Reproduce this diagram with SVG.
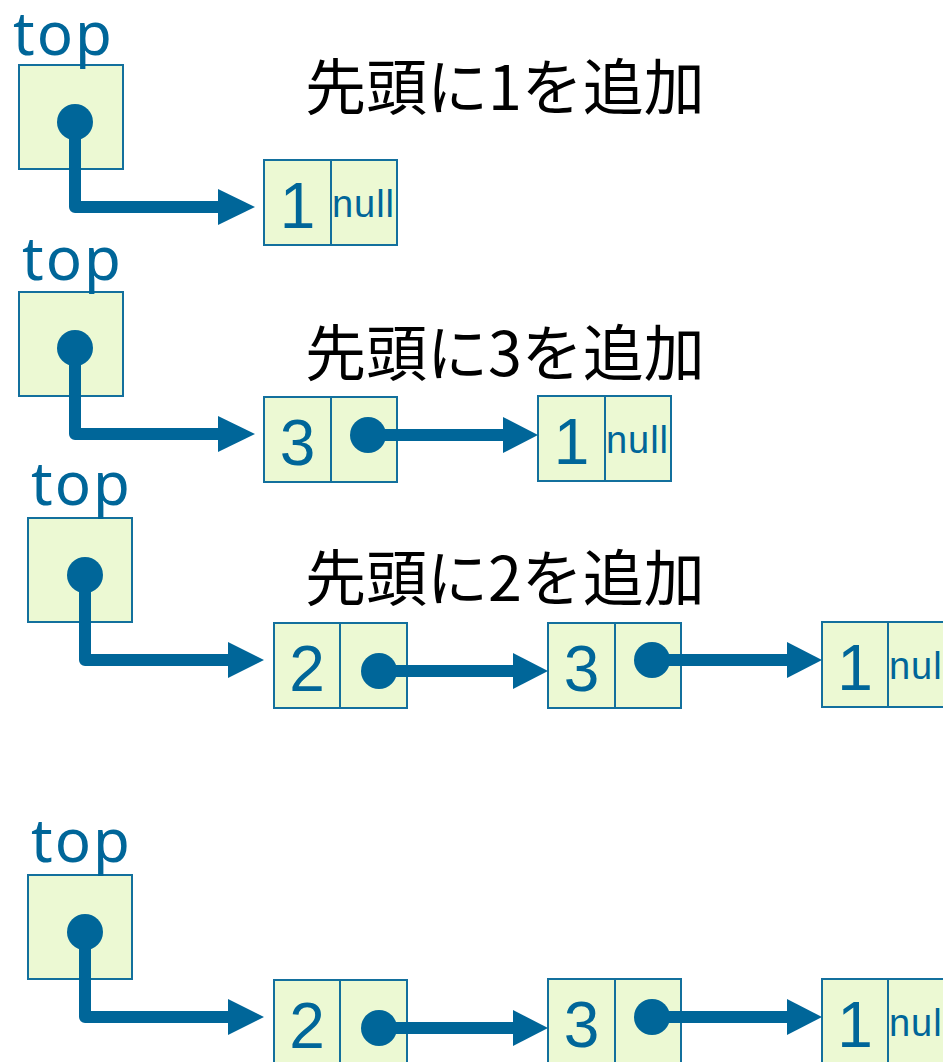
<svg xmlns="http://www.w3.org/2000/svg" width="943" height="1062" viewBox="0 0 943 1062">
<style>
.box{fill:#ecf9d3;stroke:#13709d;stroke-width:2}
.lbl{font-family:"Liberation Sans",Arial,sans-serif;fill:#006699}
.top{font-family:"Noto Sans","Liberation Sans",sans-serif;font-size:60px}
.num{font-size:64px;text-anchor:middle}
.null{font-size:38px}
.title{font-family:"Noto Sans CJK JP",sans-serif;font-size:61px;fill:#000}
.dot{fill:#006699}
.ln{fill:none;stroke:#006699;stroke-width:12;stroke-linejoin:round;stroke-linecap:butt}
.ah{fill:#006699}
</style>
<rect width="943" height="1062" fill="#fff"/>

<!-- Titles -->
<text class="title" x="305" y="110">先頭に1を追加</text>
<text class="title" x="305" y="376">先頭に3を追加</text>
<text class="title" x="305" y="601">先頭に2を追加</text>

<!-- Block 1 -->
<g id="top1">
<rect class="box" x="19" y="65" width="104" height="104"/>
<text class="lbl top" x="13" y="55" textLength="99">top</text>
</g>
<g id="b1n1">
<rect class="box" x="264" y="160" width="67" height="85"/>
<rect class="box" x="331" y="160" width="66" height="85"/>
<text class="lbl num" x="297.5" y="228">1</text>
<text class="lbl null" x="332" y="217" textLength="62">null</text>
</g>

<!-- Block 2 -->
<g id="top2">
<rect class="box" x="19" y="292" width="104" height="104"/>
<text class="lbl top" x="22" y="280" textLength="99">top</text>
</g>
<g id="b2n3">
<rect class="box" x="264" y="397" width="67" height="85"/>
<rect class="box" x="331" y="397" width="66" height="85"/>
<text class="lbl num" x="297.5" y="465">3</text>
</g>
<g id="b2n1">
<rect class="box" x="538" y="396" width="67" height="85"/>
<rect class="box" x="605" y="396" width="66" height="85"/>
<text class="lbl num" x="571.5" y="464">1</text>
<text class="lbl null" x="606" y="453" textLength="62">null</text>
</g>

<!-- Block 3 -->
<g id="top3">
<rect class="box" x="28" y="518" width="104" height="104"/>
<text class="lbl top" x="31" y="505" textLength="99">top</text>
</g>
<g id="b3n2">
<rect class="box" x="274" y="623" width="66" height="85"/>
<rect class="box" x="340" y="623" width="67" height="85"/>
<text class="lbl num" x="307" y="691">2</text>
</g>
<g id="b3n3">
<rect class="box" x="548" y="623" width="67" height="85"/>
<rect class="box" x="615" y="623" width="66" height="85"/>
<text class="lbl num" x="581.5" y="691">3</text>
</g>
<g id="b3n1">
<rect class="box" x="822" y="622" width="66" height="85"/>
<rect class="box" x="888" y="622" width="66" height="85"/>
<text class="lbl num" x="855" y="690">1</text>
<text class="lbl null" x="889" y="679" textLength="62">null</text>
</g>

<!-- Block 4 -->
<g id="top4">
<rect class="box" x="28" y="875" width="104" height="104"/>
<text class="lbl top" x="31" y="862" textLength="99">top</text>
</g>
<g id="b4n2">
<rect class="box" x="274" y="980" width="66" height="85"/>
<rect class="box" x="340" y="980" width="67" height="85"/>
<text class="lbl num" x="307" y="1048">2</text>
</g>
<g id="b4n3">
<rect class="box" x="548" y="979" width="67" height="85"/>
<rect class="box" x="615" y="979" width="66" height="85"/>
<text class="lbl num" x="581.5" y="1047">3</text>
</g>
<g id="b4n1">
<rect class="box" x="822" y="979" width="66" height="85"/>
<rect class="box" x="888" y="979" width="66" height="85"/>
<text class="lbl num" x="855" y="1047">1</text>
<text class="lbl null" x="889" y="1036" textLength="62">null</text>
</g>

<!-- Connectors -->
<g id="connectors">
<circle class="dot" cx="75" cy="122" r="18"/>
<path class="ln" d="M75,122 V207 H220"/>
<polygon class="ah" points="218,189 255,207 218,225"/>

<circle class="dot" cx="75" cy="348" r="18"/>
<path class="ln" d="M75,348 V434 H220"/>
<polygon class="ah" points="218,416 255,434 218,452"/>
<circle class="dot" cx="368" cy="435" r="18"/>
<path class="ln" d="M368,435 H505"/>
<polygon class="ah" points="503,417 538,435 503,453"/>

<circle class="dot" cx="85" cy="575" r="18"/>
<path class="ln" d="M85,575 V660 H230"/>
<polygon class="ah" points="228,642 264,660 228,678"/>
<circle class="dot" cx="379" cy="671" r="18"/>
<path class="ln" d="M379,671 H515"/>
<polygon class="ah" points="513,653 548,671 513,689"/>
<circle class="dot" cx="652" cy="660" r="18"/>
<path class="ln" d="M652,660 H789"/>
<polygon class="ah" points="787,642 822,660 787,678"/>

<circle class="dot" cx="85" cy="932" r="18"/>
<path class="ln" d="M85,932 V1017 H230"/>
<polygon class="ah" points="228,999 264,1017 228,1035"/>
<circle class="dot" cx="379" cy="1028" r="18"/>
<path class="ln" d="M379,1028 H515"/>
<polygon class="ah" points="513,1010 548,1028 513,1046"/>
<circle class="dot" cx="652" cy="1017" r="18"/>
<path class="ln" d="M652,1017 H789"/>
<polygon class="ah" points="787,999 822,1017 787,1035"/>
</g>
</svg>
